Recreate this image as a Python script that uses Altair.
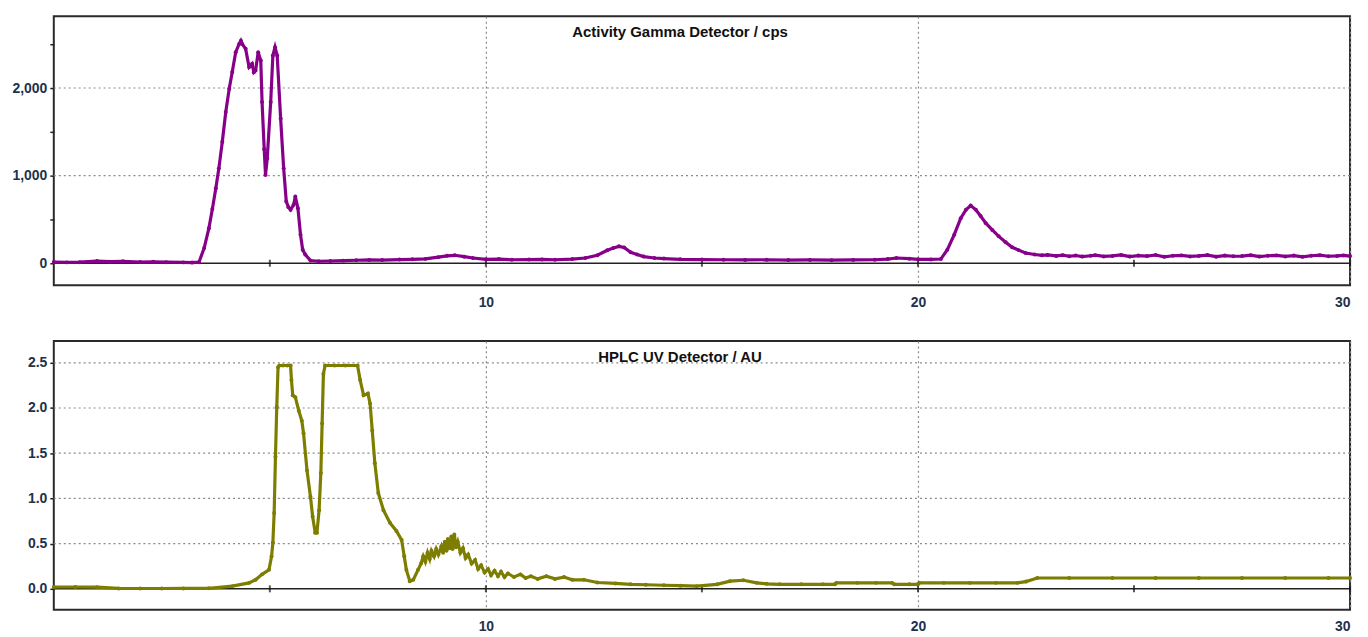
import altair as alt
import pandas as pd

# ---------------- data ----------------
gamma_t = [0.0, 0.3, 0.6, 1.0, 1.3, 1.6, 2.0, 2.3, 2.6, 3.0, 3.2, 3.36, 3.48, 3.59, 3.67, 3.75, 3.82,
           3.90, 3.98, 4.06, 4.13, 4.21, 4.29, 4.33, 4.36, 4.44, 4.52, 4.59, 4.63, 4.67, 4.73,
           4.79, 4.82, 4.87, 4.90, 4.94, 5.02, 5.07, 5.12, 5.17, 5.25, 5.32, 5.38, 5.43, 5.48,
           5.55, 5.59, 5.65, 5.71, 5.76, 5.82, 5.94, 6.13, 6.4, 6.7, 7.0, 7.3, 7.6, 8.0, 8.3,
           8.6, 8.9, 9.1, 9.28, 9.5, 9.7, 10.0, 10.3, 10.6, 11.0, 11.3, 11.6, 12.0, 12.3, 12.58,
           12.81, 12.95, 13.08, 13.2, 13.35, 13.5, 13.65, 13.9, 14.12, 14.5, 15.0, 15.5, 16.0,
           16.5, 17.0, 17.5, 18.0, 18.5, 19.0, 19.3, 19.5, 19.8, 20.0, 20.3, 20.53, 20.68,
           20.84, 20.99, 21.11, 21.22, 21.34, 21.45, 21.57, 21.72, 21.87, 22.03, 22.18, 22.33,
           22.49, 22.7, 22.87, 23.0, 23.2, 23.35, 23.5, 23.65, 23.8, 24.0, 24.1, 24.3, 24.5,
           24.7, 24.9, 25.1, 25.3, 25.5, 25.7, 25.9, 26.1, 26.3, 26.5, 26.7, 26.9, 27.1, 27.3,
           27.5, 27.7, 27.9, 28.1, 28.3, 28.5, 28.7, 28.9, 29.1, 29.3, 29.5, 29.7, 29.85, 30.0]
gamma_v = [14, 10, 12, 25, 18, 22, 14, 16, 12, 10, 8, 12, 174, 401, 620, 856, 1083,
           1386, 1727, 1992, 2182, 2409, 2503, 2540, 2503, 2447, 2239, 2276, 2180, 2201, 2409,
           2315, 1841, 1300, 1008, 1197, 1841, 2371, 2466, 2371, 1651, 1083, 705, 640, 610,
           667, 761, 629, 326, 155, 99, 31, 23, 26, 30, 34, 38, 36, 42, 45,
           50, 70, 85, 91, 75, 60, 45, 48, 40, 42, 44, 40, 48, 60, 91,
           148, 175, 193, 180, 125, 100, 76, 60, 53, 45, 42, 40, 38,
           40, 36, 38, 35, 38, 40, 48, 60, 52, 45, 44, 48, 155,
           326, 515, 610, 659, 610, 540, 458, 380, 307, 240, 182, 150,
           117, 100, 91, 95, 84, 92, 80, 88, 76, 86, 92, 78, 84,
           95, 76, 88, 82, 94, 74, 86, 90, 78, 84, 93, 75, 88, 80,
           82, 92, 76, 86, 90, 78, 88, 74, 86, 92, 80, 84, 90, 82]

uv_t = [0.0, 0.5, 1.0, 1.5, 2.0, 2.5, 3.0, 3.59, 4.13, 4.52, 4.67, 4.82, 4.98, 5.04, 5.07,
        5.10, 5.13, 5.16, 5.19, 5.22, 5.30, 5.40, 5.48, 5.50, 5.53, 5.59, 5.67, 5.74, 5.78,
        5.86, 5.94, 5.99, 6.05, 6.09, 6.14, 6.18, 6.21, 6.24, 6.28, 6.5, 6.75, 7.03, 7.09,
        7.17, 7.27, 7.32, 7.37, 7.43, 7.51, 7.63, 7.78, 7.93, 8.05, 8.11, 8.16, 8.24, 8.32,
        8.43, 8.50, 8.55, 8.60, 8.65, 8.70, 8.74, 8.80, 8.85, 8.90, 8.97, 9.01, 9.05, 9.09,
        9.12, 9.16, 9.20, 9.23, 9.27, 9.31, 9.35, 9.41, 9.47, 9.53, 9.59, 9.67, 9.75, 9.82,
        9.89, 9.97, 10.05, 10.12, 10.20, 10.28, 10.35, 10.43, 10.51, 10.65, 10.8, 10.92, 11.04,
        11.2, 11.4, 11.6, 11.81, 12.0, 12.27, 12.58, 13.0, 13.35,
        13.7, 14.12, 14.5, 14.88, 15.35, 15.65, 15.96, 16.27, 16.5, 16.8, 17.3, 17.8, 18.08,
        18.11, 18.6, 19.03, 19.40, 19.45, 19.8, 20.0, 20.03, 20.6, 21.2, 21.8, 22.3, 22.5,
        22.76, 23.5, 24.5, 25.5, 26.5, 27.5, 28.5, 29.5, 30.0]
uv_v = [0.02, 0.02, 0.019, 0.005, 0.004, 0.004, 0.005, 0.006, 0.03, 0.066, 0.10, 0.16, 0.21, 0.36, 0.51,
        0.84, 1.46, 2.01, 2.45, 2.47, 2.47, 2.47, 2.47, 2.31, 2.14, 2.12, 1.97, 1.86, 1.72,
        1.31, 1.02, 0.80, 0.62, 0.62, 0.87, 1.28, 1.83, 2.38, 2.47, 2.47, 2.47, 2.47, 2.31,
        2.14, 2.16, 2.05, 1.75, 1.39, 1.06, 0.87, 0.73, 0.64, 0.54, 0.36, 0.21, 0.085, 0.10,
        0.21, 0.28, 0.36, 0.30, 0.40, 0.33, 0.42, 0.36, 0.44, 0.38, 0.47, 0.40, 0.52, 0.42,
        0.55, 0.45, 0.58, 0.44, 0.60, 0.46, 0.52, 0.40, 0.45, 0.34, 0.38, 0.28, 0.32, 0.22,
        0.26, 0.18, 0.22, 0.15, 0.20, 0.14, 0.19, 0.13, 0.17, 0.13, 0.16, 0.12, 0.14,
        0.11, 0.14, 0.11, 0.13, 0.10, 0.10, 0.07, 0.06, 0.05,
        0.045, 0.04, 0.035, 0.03, 0.05, 0.085, 0.095, 0.066, 0.055, 0.05, 0.05, 0.05, 0.05,
        0.066, 0.066, 0.066, 0.066, 0.05, 0.05, 0.05, 0.066, 0.066, 0.066, 0.066, 0.066, 0.08,
        0.12, 0.12, 0.12, 0.12, 0.12, 0.12, 0.12, 0.12, 0.12]

titles = ["Activity Gamma Detector / cps", "HPLC UV Detector / AU"]
x_labels = [10, 20, 30]
zero_ticks = [5, 10, 15, 20, 25, 30]
gamma_ticks = [0, 500, 1000, 1500, 2000, 2500]
gamma_grid = [1000, 2000]
uv_ticks = [0, 0.25, 0.5, 0.75, 1.0, 1.25, 1.5, 1.75, 2.0, 2.25, 2.5]
uv_grid = [0.5, 1.0, 1.5, 2.0, 2.5]

W, H = 1302, 270
LABEL_COLOR = "#22304a"
FONT = "Liberation Sans"


def panel(t, v, color, ydomain, yticks, ygrid, label_expr, title):
    df = pd.DataFrame({"t": t, "v": v})
    xscale = alt.Scale(domain=[0, 30], nice=False, zero=False)
    yscale = alt.Scale(domain=ydomain, nice=False, zero=False)

    xaxis = alt.Axis(values=x_labels, format="d", title=None, grid=True,
                     gridDash=[2, 3], gridColor="#8a8a8a", gridWidth=1.2,
                     domain=False, ticks=False, labelPadding=10,
                     labelFontSize=14, labelFontWeight="bold", labelColor=LABEL_COLOR,
                     labelFont=FONT)
    yaxis = alt.Axis(values=yticks, labelExpr=label_expr, title=None, grid=False,
                     domain=False, tickSize=4, tickColor="#222", tickWidth=1.5,
                     labelPadding=3, labelFontSize=14, labelFontWeight="bold",
                     labelColor=LABEL_COLOR, labelFont=FONT)

    grid = alt.Chart(pd.DataFrame({"g": ygrid})).mark_rule(
        strokeDash=[2, 3], color="#8a8a8a", strokeWidth=1.2
    ).encode(y=alt.Y("g:Q", scale=yscale, axis=yaxis))

    zero = alt.Chart(pd.DataFrame({"z": [0]})).mark_rule(
        color="#222", strokeWidth=1.5
    ).encode(y=alt.Y("z:Q", scale=yscale))

    ticks = alt.Chart(pd.DataFrame({"tx": zero_ticks, "ty": [0] * len(zero_ticks)})).mark_tick(
        orient="vertical", size=7, thickness=2, color="#111"
    ).encode(x=alt.X("tx:Q", scale=xscale), y=alt.Y("ty:Q", scale=yscale))

    line = alt.Chart(df).mark_line(
        color=color, strokeWidth=3.2,
        point=alt.OverlayMarkDef(filled=True, size=16, color=color)
    ).encode(
        x=alt.X("t:Q", scale=xscale, axis=xaxis),
        y=alt.Y("v:Q", scale=yscale),
    )

    ttl = alt.Chart(pd.DataFrame({"title": [title]})).mark_text(
        fontWeight="bold", fontSize=15, font=FONT, color="#111", align="center", baseline="middle"
    ).encode(x=alt.value(629), y=alt.value(16), text="title:N")

    return alt.layer(grid, zero, ticks, line, ttl).properties(width=W, height=H)


top = panel(gamma_t, gamma_v, "#87008a", [-250, 2818], gamma_ticks, gamma_grid,
            "datum.value % 1000 == 0 ? format(datum.value, ',') : ''", titles[0])
bottom = panel(uv_t, uv_v, "#7d7d00", [-0.231, 2.742], uv_ticks, uv_grid,
               "datum.value % 0.5 == 0 ? format(datum.value, '.1f') : ''", titles[1])

chart = alt.vconcat(top, bottom, spacing=30).properties(
    padding={"left": 2, "top": 6, "right": 2, "bottom": 0},
    background="white",
).configure_view(stroke="#2a2a2a", strokeWidth=2)

chart.save("out.html", embed_options={"renderer": "svg", "actions": False})
